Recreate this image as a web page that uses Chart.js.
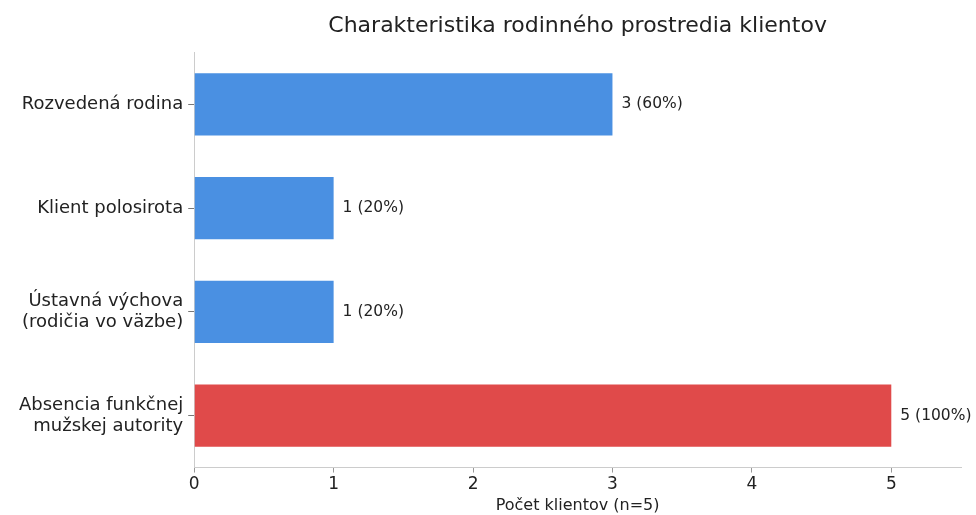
<!DOCTYPE html>
<html>
<head>
<meta charset="utf-8">
<script src="https://cdn.jsdelivr.net/npm/chart.js@4.4.1/dist/chart.umd.min.js"></script>
<style>
  html, body { margin: 0; padding: 0; background: #fff; }
  #wrap { width: 976px; height: 515px; }
</style>
</head>
<body>
<div id="wrap"><canvas id="myChart" width="976" height="515"></canvas></div>
<script>
// Data
const categories = [
    'Rozvedená rodina',
    'Klient polosirota',
    ['Ústavná výchova', '(rodičia vo väzbe)'],
    ['Absencia funkčnej', 'mužskej autority']
];
const clientCounts = [3, 1, 1, 5];
const percentLabels = ['60%', '20%', '20%', '100%'];
const barColors = ['#4a90e2', '#4a90e2', '#4a90e2', '#e04a4a'];
const xTicks = [0, 1, 2, 3, 4, 5];

const fontFamily = "'DejaVu Sans', sans-serif";

// Draws "n (p%)" to the right of each bar
const valueLabels = {
    id: 'valueLabels',
    afterDatasetsDraw(chart) {
        const ctx = chart.ctx;
        const meta = chart.getDatasetMeta(0);
        ctx.save();
        ctx.font = `15.5px ${fontFamily}`;
        ctx.fillStyle = '#222';
        ctx.textAlign = 'left';
        ctx.textBaseline = 'middle';
        meta.data.forEach((bar, i) => {
            ctx.fillText(`${clientCounts[i]} (${percentLabels[i]})`, bar.x + 9, bar.y);
        });
        ctx.restore();
    }
};

const ctx = document.getElementById('myChart').getContext('2d');
new Chart(ctx, {
    type: 'bar',
    data: {
        labels: categories,
        datasets: [{
            data: clientCounts,
            backgroundColor: barColors,
            borderWidth: 0,
            categoryPercentage: 1.0,
            barPercentage: 0.6
        }]
    },
    options: {
        indexAxis: 'y',
        responsive: false,
        animation: false,
        layout: { padding: { left: 14, right: 15, top: 0, bottom: 0 } },
        plugins: {
            legend: { display: false },
            tooltip: { enabled: false },
            title: {
                display: true,
                fullSize: false,
                text: 'Charakteristika rodinného prostredia klientov',
                color: '#222',
                font: { family: fontFamily, size: 22, weight: 'normal' },
                padding: { top: 13, bottom: 13 }
            }
        },
        scales: {
            x: {
                min: 0,
                max: 5.5,
                afterBuildTicks: scale => {
                    scale.ticks = xTicks.map(v => ({ value: v }));
                },
                border: { display: true, color: '#cccccc', width: 1 },
                grid: { drawOnChartArea: false, drawTicks: true, tickLength: 5, color: '#999' },
                ticks: {
                    color: '#222',
                    padding: 3,
                    font: { family: fontFamily, size: 17, lineHeight: 1.05 }
                },
                title: {
                    display: true,
                    text: 'Počet klientov (n=5)',
                    color: '#222',
                    font: { family: fontFamily, size: 16, lineHeight: 1.1 },
                    padding: { top: 1, bottom: 0 }
                }
            },
            y: {
                border: { display: true, color: '#cccccc', width: 1 },
                grid: { offset: false, drawOnChartArea: false, drawTicks: true, tickLength: 6, color: '#777' },
                ticks: {
                    color: '#222',
                    padding: 5,
                    font: { family: fontFamily, size: 18, lineHeight: 1.15 }
                }
            }
        }
    },
    plugins: [valueLabels]
});
</script>
</body>
</html>
